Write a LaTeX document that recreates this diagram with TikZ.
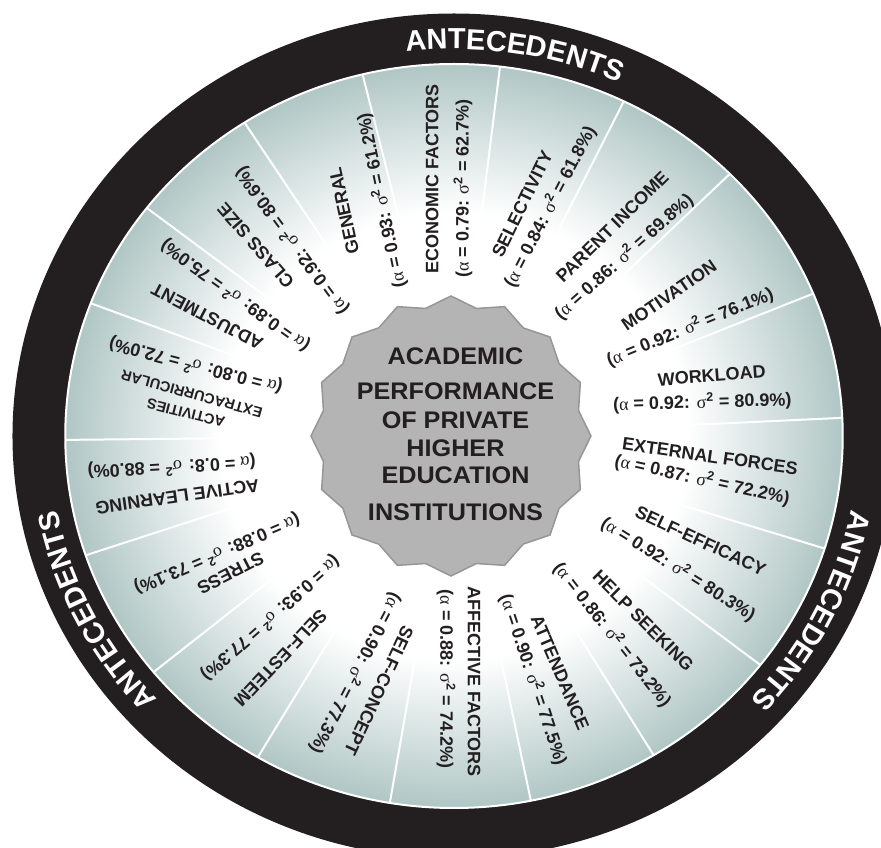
\documentclass[tikz,border=0pt]{standalone}
\usepackage{fontspec}
\setmainfont{Liberation Sans}
\newfontfamily\grk{Liberation Serif}
\usetikzlibrary{decorations.text,shapes.geometric}

\definecolor{ink}{RGB}{35,31,32}
\definecolor{sage}{RGB}{168,193,191}
\definecolor{hubgray}{RGB}{180,180,180}
\definecolor{hubedge}{RGB}{150,150,150}

% white glow around the hub fading into the sage segments
\pgfdeclareradialshading{wheelglow}{\pgfpoint{0bp}{0bp}}{%
  color(0bp)=(white); color(15bp)=(white); color(20bp)=(sage!45!white);
  color(26bp)=(sage); color(50bp)=(sage)}

% reliability / explained-variance line of a segment
\newcommand{\stat}[2]{({\grk\mdseries α} = #1: {\grk\mdseries σ}\textsuperscript{2} = #2\%)}

\begin{document}
\begin{tikzpicture}[x=1pt,y=1pt,
  lab/.style={font=\bfseries\fontsize{18}{20}\selectfont, text=ink, inner sep=0pt},
  smalllab/.style={lab, font=\bfseries\fontsize{14.5}{16}\selectfont},
  hubtext/.style={font=\bfseries\fontsize{24}{26}\selectfont, text=ink, inner sep=0pt, xscale=1.05},
  divider/.style={white, line width=2pt},
  ringtext/.style={decorate, decoration={text along path, text align=center,
    text={|\bfseries\fontsize{29}{30}\selectfont\color{white}|ANTECEDENTS}}}]

\clip (-454,-412) rectangle (427,436);

% wheel: black rim, shaded segments, white dividers
\begin{scope}[xscale=1.045]
  \fill[ink] (0,0) circle[radius=422.5];
  \shade[shading=wheelglow] (0,0) circle[radius=372];
  \foreach \a in {103.6,122.6,142.2,159.1,180.6,198.7,219.4,239.7,260.5,
                  281.4,300.9,322,342.4,2.8,22.5,44.8,64.1,83.2}
    \draw[divider] (\a:120) -- (\a:372);
  \draw[white, line width=2pt] (0,0) circle[radius=372];
\end{scope}

% rim captions
\path[ringtext] (126.2:404.4 and 387) arc[start angle=126.2, end angle=36.2, x radius=404.4, y radius=387];
\path[ringtext] (251.5:404.4 and 387) arc[start angle=251.5, end angle=161.5, x radius=404.4, y radius=387];
\path[ringtext] (18.5:404.4 and 387) arc[start angle=18.5, end angle=-71.5, x radius=404.4, y radius=387];

% central hub
\node[star, star points=16, star point ratio=1.077, minimum size=280pt, inner sep=0pt,
      fill=hubgray, draw=hubedge, line width=1.5pt] (hub) at (-3,0) {};
\node[hubtext] (h1) at (1.5,79.8) {ACADEMIC};
\node[hubtext] (h2) at (1.5,44.3) {PERFORMANCE};
\node[hubtext] (h3) at (1.5,16) {OF PRIVATE};
\node[hubtext] (h4) at (1.5,-12) {HIGHER};
\node[hubtext] (h5) at (1.5,-39.3) {EDUCATION};
\node[hubtext] (h6) at (1.5,-76) {INSTITUTIONS};

% segment labels
\node[lab, rotate=90] (econ) at (-21.7,257) {ECONOMIC FACTORS};
\node[lab, rotate=90] (econs) at (9,247.5) {\stat{0.79}{62.7}};

\node[lab, rotate=64] (sel) at (68.3,232) {SELECTIVITY};
\node[lab, rotate=62.5] (sels) at (96,229.3) {\stat{0.84}{61.8}};

\node[lab, rotate=44.6] (par) at (158.3,209.3) {PARENT INCOME};
\node[lab, rotate=41.6] (pars) at (170,179.3) {\stat{0.86}{69.8}};

\node[lab, rotate=34.4] (mot) at (215,140.3) {MOTIVATION};
\node[lab, rotate=22.3] (mots) at (236,108.7) {\stat{0.92}{76.1}};

\node[lab, rotate=4.5] (work) at (257.7,60.3) {WORKLOAD};
\node[lab, rotate=1.6] (works) at (248.3,33.7) {\stat{0.92}{80.9}};

\node[lab, rotate=-8.1] (ext) at (256,-20.3) {EXTERNAL FORCES};
\node[lab, rotate=-12.4] (exts) at (248.3,-43.7) {\stat{0.87}{72.2}};

\node[lab, rotate=-25.1] (seff) at (246.7,-104.7) {SELF-EFFICACY};
\node[lab, rotate=-32.2] (seffs) at (224.3,-133) {\stat{0.92}{80.3}};

\node[lab, rotate=-45] (help) at (189.3,-184.7) {HELP SEEKING};
\node[lab, rotate=-51.8] (helps) at (158.3,-198.7) {\stat{0.86}{73.2}};

\node[lab, rotate=-67] (att) at (106,-236.3) {ATTENDANCE};
\node[lab, rotate=-71.7] (atts) at (79.3,-243.7) {\stat{0.90}{77.5}};

\node[lab, rotate=-90] (aff) at (20,-245.5) {AFFECTIVE FACTORS};
\node[lab, rotate=-90] (affs) at (-8,-243) {\stat{0.88}{74.2}};

\node[lab, rotate=245] (scon) at (-75,-254.7) {SELF-CONCEPT};
\node[lab, rotate=242.5] (scons) at (-98.3,-237.3) {\stat{0.90}{77.3}};

\node[lab, rotate=226.6] (sest) at (-173.3,-222.3) {SELF-ESTEEM};
\node[lab, rotate=221.5] (sests) at (-183.3,-182.3) {\stat{0.93}{77.3}};

\node[lab, rotate=207.1] (str) at (-223.3,-137.3) {STRESS};
\node[lab, rotate=203.1] (strs) at (-236.7,-118) {\stat{0.88}{73.1}};

\node[lab, rotate=188] (act) at (-276.7,-60.7) {ACTIVE LEARNING};
\node[lab, rotate=183.4] (acts) at (-282.3,-30.7) {\stat{0.8}{88.0}};

\node[smalllab, rotate=166] (actv) at (-268,23) {ACTIVITIES};
\node[smalllab, rotate=164.7] (extra) at (-262.3,42) {EXTRACURRICULAR};
\node[lab, rotate=165.3] (extras) at (-258.3,70.3) {\stat{0.80}{72.0}};

\node[lab, rotate=152.4] (adj) at (-246.7,119.3) {ADJUSTMENT};
\node[lab, rotate=144.4] (adjs) at (-219,140.3) {\stat{0.89}{75.0}};

\node[lab, rotate=131.1] (cls) at (-198.3,190.3) {CLASS SIZE};
\node[lab, rotate=126.3] (clss) at (-162.3,195.3) {\stat{0.92}{80.6}};

\node[lab, rotate=102.2] (gen) at (-110,225.3) {GENERAL};
\node[lab, rotate=101.8] (gens) at (-72.3,235.3) {\stat{0.93}{61.2}};

\end{tikzpicture}
\end{document}
